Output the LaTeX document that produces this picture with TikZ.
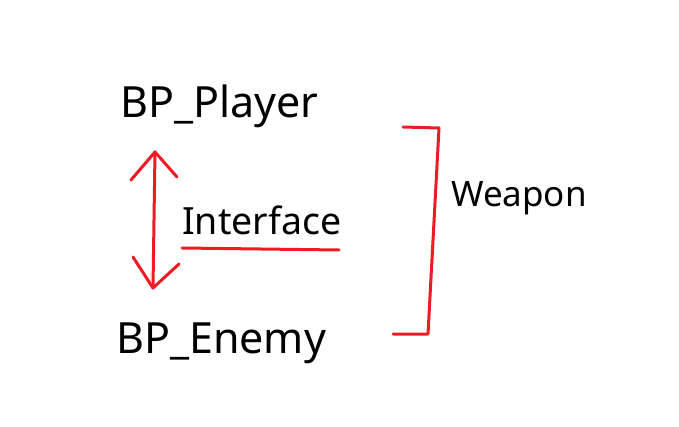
\documentclass[tikz,border=0pt]{standalone}
\usepackage{fontspec}
\setmainfont{Noto Sans}
\definecolor{paintred}{RGB}{237,28,36}
\begin{document}
\begin{tikzpicture}[x=1pt,y=-1pt,
  lbl/.style={inner sep=0pt, anchor=base west, text=black},
  big/.style={lbl, font=\fontsize{43}{50}\selectfont},
  mid/.style={lbl, font=\fontsize{37.5}{44}\selectfont},
  small/.style={lbl, font=\fontsize{35}{42}\selectfont},
  stroke/.style={draw=paintred, line width=3pt, line cap=round, line join=round}]
\useasboundingbox (0,0) rectangle (679,427);
\fill[white] (0,0) rectangle (679,427);
\node[big] (player) at (120,118) {BP\_Player};
\node[big] (enemy) at (116,353) {BP\_Enemy};
\node[mid] (iface) at (182,235) {Interface};
\node[small] (weapon) at (451,207) {Weapon};
% double arrow
\coordinate (atop) at (155,152);
\coordinate (abot) at (153,288);
\draw[stroke] (atop) -- (abot);
\draw[stroke] (131,180) -- (atop) -- (177,177);
\draw[stroke] (133,257) -- (abot) -- (179,264);
% underline
\coordinate (ul1) at (182,248);
\coordinate (ul2) at (339,250);
\draw[stroke] (ul1) -- (ul2);
% bracket
\coordinate (b1) at (403,127);
\coordinate (b2) at (439,128);
\coordinate (b3) at (428,334);
\coordinate (b4) at (393,334);
\draw[stroke] (b1) -- (b2) -- (b3) -- (b4);
\end{tikzpicture}
\end{document}
